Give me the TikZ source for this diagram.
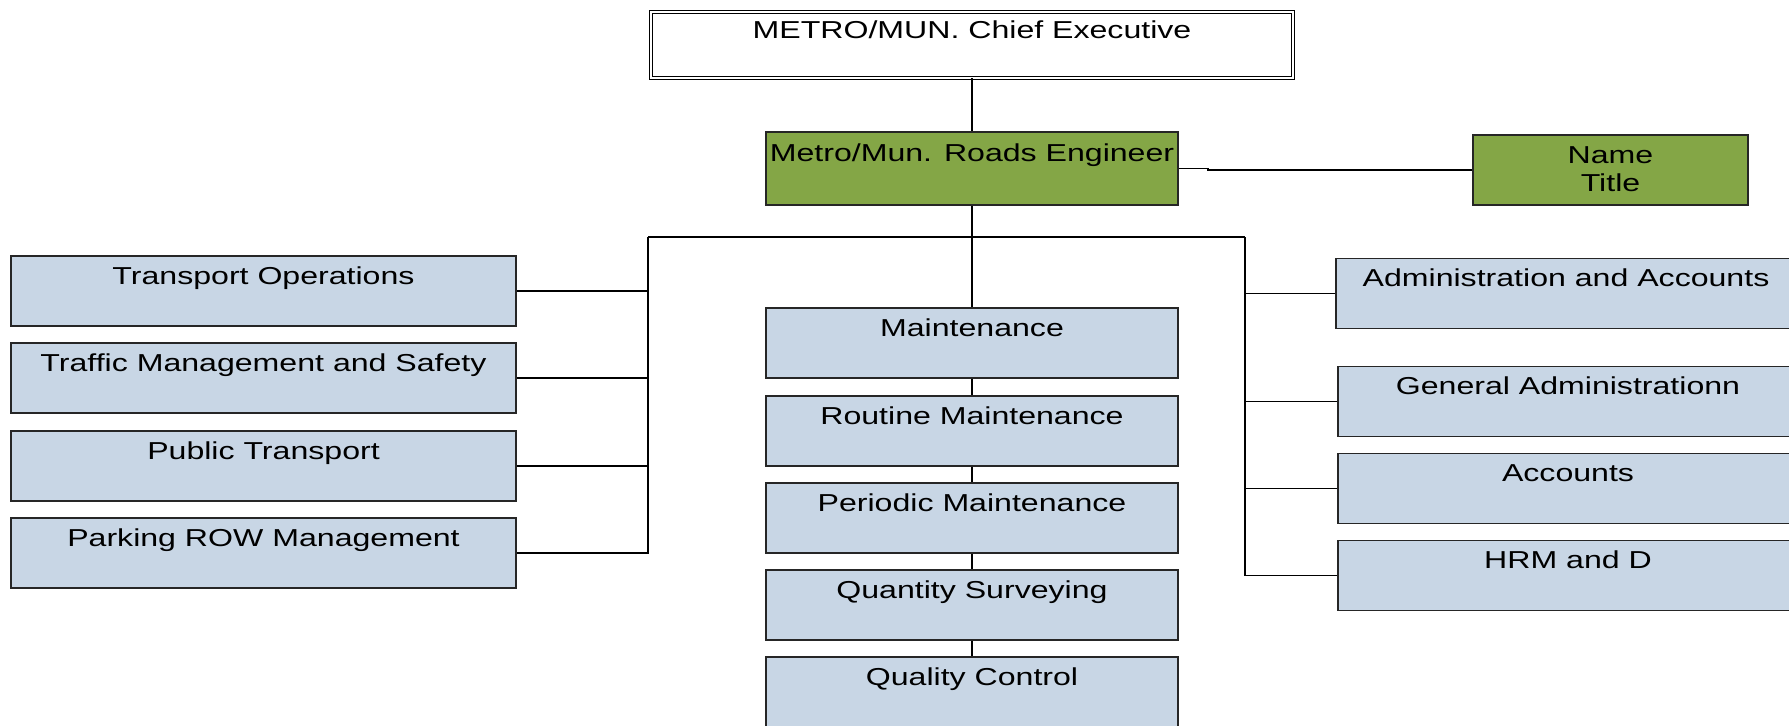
\documentclass[tikz,border=0pt]{standalone}
\usepackage{fontspec}
\setmainfont{Liberation Sans}[FakeStretch=1.31]
\definecolor{unitblue}{RGB}{200,214,229}
\definecolor{headgreen}{RGB}{132,166,70}

\begin{document}
\begin{tikzpicture}[x=0.5pt,y=-0.5pt,line width=0.75pt,
  every node/.style={font=\fontsize{12.25}{14}\selectfont,inner sep=0pt,text height=10.5pt,text depth=17.5pt},
  unit/.style={draw=black!85,fill=unitblue,minimum height=35pt},
  head/.style={draw=black!85,fill=headgreen,minimum height=35pt}]
\clip (0,0) rectangle (1789,725);
% top of the chart
\node[draw,double,double distance=1.2pt,line width=0.5pt,minimum width=321pt,minimum height=32.8pt] (chief) at (972,45) {METRO/MUN. Chief Executive};
\node[head,minimum width=206pt,minimum height=36.5pt] (eng) at (972,168.5) {Metro/Mun. Roads Engineer};
\node[head,minimum width=137.5pt,align=center,text height=24.5pt,text depth=3.5pt] (name) at (1610.5,170) {Name\\Title};
% left column
\node[unit,minimum width=252.5pt] (tops) at (263.5,291) {Transport Operations};
\node[unit,minimum width=252.5pt] (traffic) at (263.5,378) {Traffic Management and Safety};
\node[unit,minimum width=252.5pt] (public) at (263.5,466) {Public Transport};
\node[unit,minimum width=252.5pt] (parking) at (263.5,553) {Parking ROW Management};
% centre column
\node[unit,minimum width=206pt] (maint) at (972,343) {Maintenance};
\node[unit,minimum width=206pt] (routine) at (972,431) {Routine Maintenance};
\node[unit,minimum width=206pt] (periodic) at (972,518) {Periodic Maintenance};
\node[unit,minimum width=206pt] (qs) at (972,605) {Quantity Surveying};
\node[unit,minimum width=206pt] (qc) at (972,692) {Quality Control};
% right column
\node[unit,minimum width=230pt] (admin) at (1566,293.5) {Administration and Accounts};
\node[unit,minimum width=230pt] (genadm) at (1568,401.5) {General Administrationn};
\node[unit,minimum width=230pt] (accounts) at (1568,488.5) {Accounts};
\node[unit,minimum width=230pt] (hrm) at (1568,575.5) {HRM and D};
% connectors
\coordinate (busL) at (648,237);
\coordinate (busR) at (1245,237);
\draw (chief) -- (eng);
\draw (eng.east) -- ++(29,0) |- (name.west);
\draw (eng) -- (maint);
\draw (busL) -- (busR);
\foreach \n in {tops,traffic,public,parking} \draw (\n.east) -| (busL);
\foreach \n in {admin,genadm,accounts,hrm} \draw (\n.west) -| (busR);
\foreach \a/\b in {maint/routine,routine/periodic,periodic/qs,qs/qc} \draw (\a) -- (\b);
\end{tikzpicture}
\end{document}
